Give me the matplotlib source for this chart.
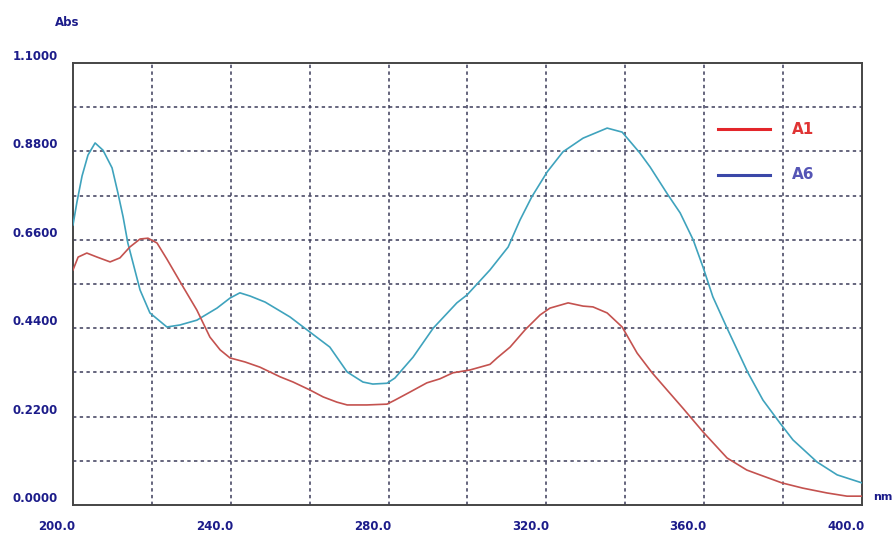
import matplotlib
matplotlib.use("Agg")
import matplotlib.pyplot as plt
import matplotlib.transforms as mtransforms

# Absorbance spectra (wavelength in nm, absorbance)
a6_nm = [200.0, 201.0, 202.3, 203.8, 205.6, 207.6, 209.9, 211.4, 212.7, 213.9,
         217.0, 219.5, 223.8, 227.1, 231.4, 236.5, 239.8, 242.3, 244.9, 248.7,
         255.0, 259.3, 265.1, 269.5, 273.5, 276.0, 279.6, 281.6, 286.2, 291.3,
         297.3, 299.9, 305.7, 310.3, 313.3, 316.3, 320.2, 324.2, 329.3, 335.4,
         339.2, 343.7, 346.3, 350.8, 353.9, 357.2, 359.7, 362.2, 365.8, 371.1,
         374.9, 379.2, 382.5, 388.6, 393.7, 400.0]
a6_abs = [0.697, 0.754, 0.819, 0.871, 0.901, 0.883, 0.839, 0.776, 0.717, 0.652,
          0.535, 0.478, 0.443, 0.448, 0.460, 0.490, 0.515, 0.528, 0.520, 0.505,
          0.468, 0.436, 0.393, 0.331, 0.306, 0.301, 0.303, 0.316, 0.368, 0.440,
          0.503, 0.523, 0.585, 0.642, 0.709, 0.767, 0.829, 0.879, 0.913, 0.938,
          0.928, 0.876, 0.841, 0.772, 0.727, 0.660, 0.592, 0.518, 0.440, 0.329,
          0.261, 0.204, 0.162, 0.107, 0.075, 0.055]

a1_nm = [200.0, 201.3, 203.5, 206.1, 209.4, 211.9, 214.4, 217.0, 219.0, 221.3,
         223.8, 227.9, 231.4, 234.7, 237.3, 239.8, 243.6, 247.4, 252.5, 255.8,
         260.1, 263.4, 266.9, 269.5, 274.5, 279.6, 281.6, 285.4, 289.7, 293.0,
         296.3, 300.6, 305.7, 307.5, 310.8, 314.6, 318.4, 320.9, 325.5, 329.3,
         331.8, 335.4, 339.2, 343.0, 346.8, 350.6, 354.6, 359.7, 365.8, 370.8,
         374.1, 379.7, 385.0, 391.1, 396.2, 400.0]
a1_abs = [0.585, 0.617, 0.627, 0.617, 0.605, 0.615, 0.642, 0.662, 0.664, 0.652,
          0.612, 0.543, 0.485, 0.418, 0.386, 0.366, 0.356, 0.343, 0.319, 0.306,
          0.286, 0.269, 0.256, 0.249, 0.249, 0.251, 0.261, 0.281, 0.304, 0.314,
          0.329, 0.336, 0.350, 0.366, 0.393, 0.436, 0.473, 0.490, 0.503, 0.495,
          0.493, 0.478, 0.443, 0.378, 0.329, 0.286, 0.241, 0.182, 0.117, 0.087,
          0.075, 0.055, 0.042, 0.030, 0.022, 0.022]

x_ticks = [200, 240, 280, 320, 360, 400]
x_tick_labels = ["200.0", "240.0", "280.0", "320.0", "360.0", "400.0"]
y_ticks = [0.0, 0.22, 0.44, 0.66, 0.88, 1.10]
y_tick_labels = ["0.0000", "0.2200", "0.4400", "0.6600", "0.8800", "1.1000"]
legend_names = ["A1", "A6"]

label_color = "#1c1c8a"
grid_color = "#3c3c5a"

fig = plt.figure(figsize=(8.95, 5.36), dpi=100)
ax = fig.add_axes([73 / 895, 31 / 536, 789 / 895, 442 / 536])

ax.plot(a6_nm, a6_abs, color="#3fa3bd", lw=1.2, zorder=3)
ax.plot(a1_nm, a1_abs, color="#c4524f", lw=1.2, zorder=3)

ax.set_xlim(200, 400)
ax.set_ylim(0, 1.1)

# dashed grid every 20 nm and every 0.11 Abs
for xv in range(220, 400, 20):
    ax.axvline(xv, color=grid_color, lw=1.1, ls=(0, (2.2, 2.2)), zorder=1)
for i in range(1, 10):
    ax.axhline(i * 0.11, color=grid_color, lw=1.1, ls=(0, (2.2, 2.2)), zorder=1)

for s in ax.spines.values():
    s.set_color("#454545")
    s.set_linewidth(1.4)

ax.set_xticks(x_ticks)
ax.set_xticklabels(x_tick_labels)
ax.set_yticks(y_ticks)
ax.set_yticklabels(y_tick_labels)
ax.tick_params(length=0, labelsize=8.5, labelcolor=label_color)
ax.tick_params(axis="y", pad=11)
ax.tick_params(axis="x", pad=11)
for lab in ax.get_xticklabels() + ax.get_yticklabels():
    lab.set_fontweight("bold")

dx = mtransforms.ScaledTranslation(-16 / 100, 0, fig.dpi_scale_trans)
for lab in ax.get_xticklabels():
    lab.set_transform(lab.get_transform() + dx)
dy = mtransforms.ScaledTranslation(0, 8 / 100, fig.dpi_scale_trans)
for lab in ax.get_yticklabels():
    lab.set_transform(lab.get_transform() + dy)

fig.text(67 / 895, 1 - 22 / 536, "Abs", color=label_color, fontsize=8.5,
         fontweight="bold", ha="center", va="center")
fig.text(873 / 895, 1 - 497 / 536, "nm", color=label_color, fontsize=8,
         fontweight="bold", ha="left", va="center")

# legend entries drawn inside the plot area
ax.plot([363.5, 376.7], [0.935, 0.935], color="#e3262b", lw=2.2, zorder=4)
ax.plot([363.5, 376.7], [0.822, 0.822], color="#3b48a8", lw=2.2, zorder=4)
ax.text(382.3, 0.935, legend_names[0], color="#e03434", fontsize=11,
        fontweight="bold", va="center", ha="left", zorder=4)
ax.text(382.3, 0.822, legend_names[1], color="#5555b5", fontsize=11,
        fontweight="bold", va="center", ha="left", zorder=4)

fig.savefig("out.png", dpi=100)
